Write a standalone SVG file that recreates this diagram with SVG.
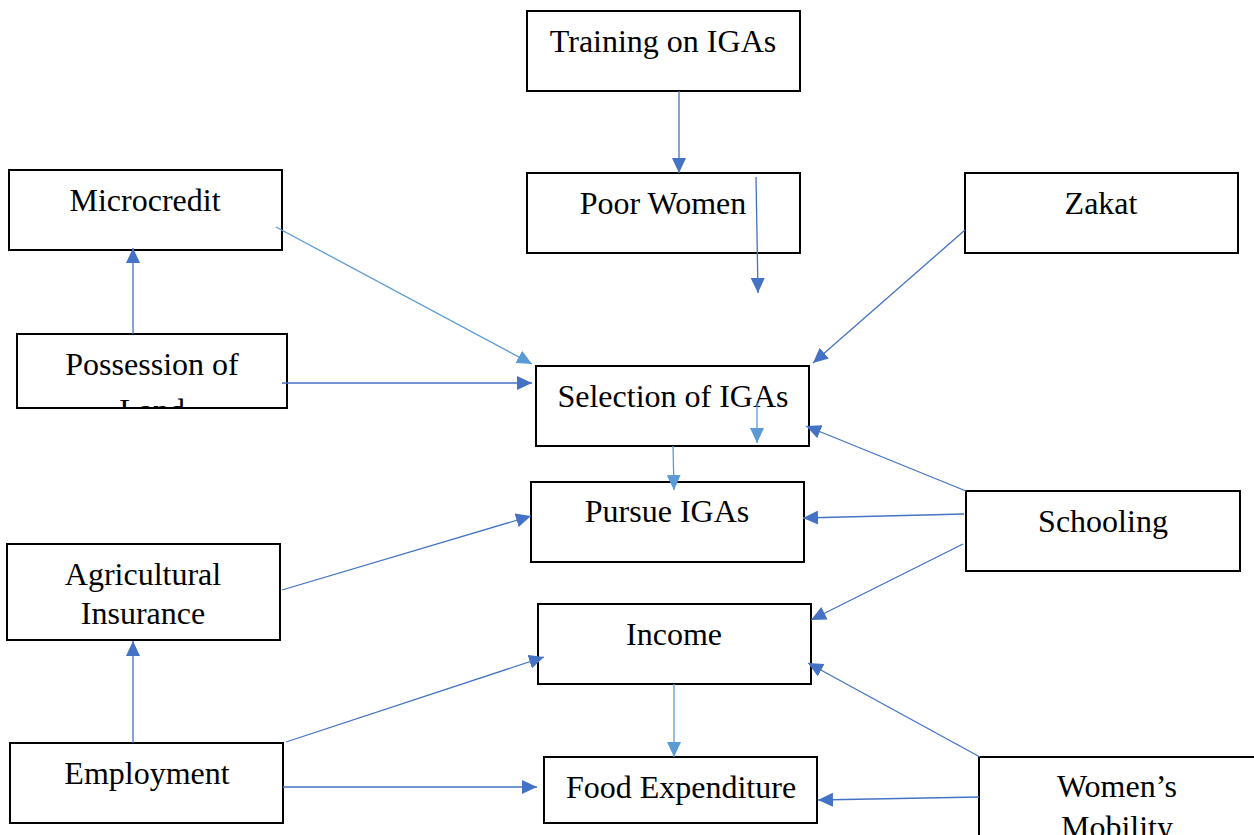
<svg xmlns="http://www.w3.org/2000/svg" width="1254" height="835" viewBox="0 0 1254 835">
<style>
.box{fill:#fff;stroke:#000;stroke-width:2}
.t{font-family:'Liberation Serif','DejaVu Serif',serif;font-size:32px;fill:#000;text-anchor:middle}
.d{stroke:#4472C4;stroke-width:1.3;fill:none;marker-end:url(#ad)}
.l{stroke:#5B9BD5;stroke-width:1.3;fill:none;marker-end:url(#al)}
</style>
<defs>
<marker id="ad" markerUnits="userSpaceOnUse" markerWidth="16" markerHeight="14" refX="15" refY="7" orient="auto"><path d="M0,0 L15,7 L0,14 Z" fill="#4472C4"/></marker>
<marker id="al" markerUnits="userSpaceOnUse" markerWidth="16" markerHeight="14" refX="15" refY="7" orient="auto"><path d="M0,0 L15,7 L0,14 Z" fill="#5B9BD5"/></marker>
<clipPath id="cPos"><rect x="17" y="334" width="270" height="74"/></clipPath>
<clipPath id="cWom"><rect x="979" y="757" width="280" height="78"/></clipPath>
</defs>
<rect width="1254" height="835" fill="#fff"/>
<g id="n-training"><rect class="box" x="527" y="11" width="273" height="80"/><text class="t" x="663" y="52">Training on IGAs</text></g>
<g id="n-poor"><rect class="box" x="527" y="173" width="273" height="80"/><text class="t" x="663" y="214">Poor Women</text></g>
<g id="n-micro"><rect class="box" x="9" y="170" width="273" height="80"/><text class="t" x="145" y="211">Microcredit</text></g>
<g id="n-zakat"><rect class="box" x="965" y="173" width="273" height="80"/><text class="t" x="1101" y="214">Zakat</text></g>
<g id="n-possession"><rect class="box" x="17" y="334" width="270" height="74"/><g clip-path="url(#cPos)"><text class="t" x="152" y="375">Possession of</text><text class="t" x="152" y="421">Land</text></g></g>
<g id="n-selection"><rect class="box" x="536" y="366" width="273" height="80"/><text class="t" x="673" y="407">Selection of IGAs</text></g>
<g id="n-pursue"><rect class="box" x="531" y="482" width="273" height="80"/><text class="t" x="667" y="522">Pursue IGAs</text></g>
<g id="n-schooling"><rect class="box" x="966" y="491" width="274" height="80"/><text class="t" x="1103" y="532">Schooling</text></g>
<g id="n-agri"><rect class="box" x="7" y="544" width="273" height="96"/><text class="t" x="143" y="585">Agricultural</text><text class="t" x="143" y="624">Insurance</text></g>
<g id="n-income"><rect class="box" x="538" y="604" width="273" height="80"/><text class="t" x="674" y="645">Income</text></g>
<g id="n-employment"><rect class="box" x="10" y="743" width="273" height="80"/><text class="t" x="147" y="784">Employment</text></g>
<g id="n-food"><rect class="box" x="544" y="757" width="273" height="66"/><text class="t" x="681" y="798">Food Expenditure</text></g>
<g id="n-women"><rect class="box" x="979" y="757" width="290" height="90"/><g clip-path="url(#cWom)"><text class="t" x="1117" y="797">Women’s</text><text class="t" x="1117" y="838">Mobility</text></g></g>
<g id="connectors">
<line class="d" x1="679" y1="91" x2="679" y2="173"/>
<line class="d" x1="756" y1="177" x2="758" y2="293"/>
<line class="l" x1="276" y1="227" x2="532" y2="364"/>
<line class="d" x1="133" y1="334" x2="133" y2="248"/>
<line class="d" x1="282" y1="383" x2="532" y2="383"/>
<line class="d" x1="965" y1="230" x2="813" y2="363"/>
<line class="l" x1="757" y1="403" x2="757" y2="443"/>
<line class="l" x1="673" y1="446" x2="674" y2="490"/>
<line class="d" x1="966" y1="491" x2="806" y2="426"/>
<line class="d" x1="964" y1="514" x2="803" y2="518"/>
<line class="d" x1="282" y1="590" x2="531" y2="516"/>
<line class="d" x1="963" y1="544" x2="811" y2="620"/>
<line class="d" x1="133" y1="743" x2="133" y2="641"/>
<line class="d" x1="286" y1="742" x2="544" y2="657"/>
<line class="d" x1="283" y1="787" x2="537" y2="787"/>
<line class="l" x1="674" y1="684" x2="674" y2="757"/>
<line class="d" x1="980" y1="757" x2="808" y2="663"/>
<line class="d" x1="979" y1="797" x2="818" y2="800"/>
</g>
</svg>
